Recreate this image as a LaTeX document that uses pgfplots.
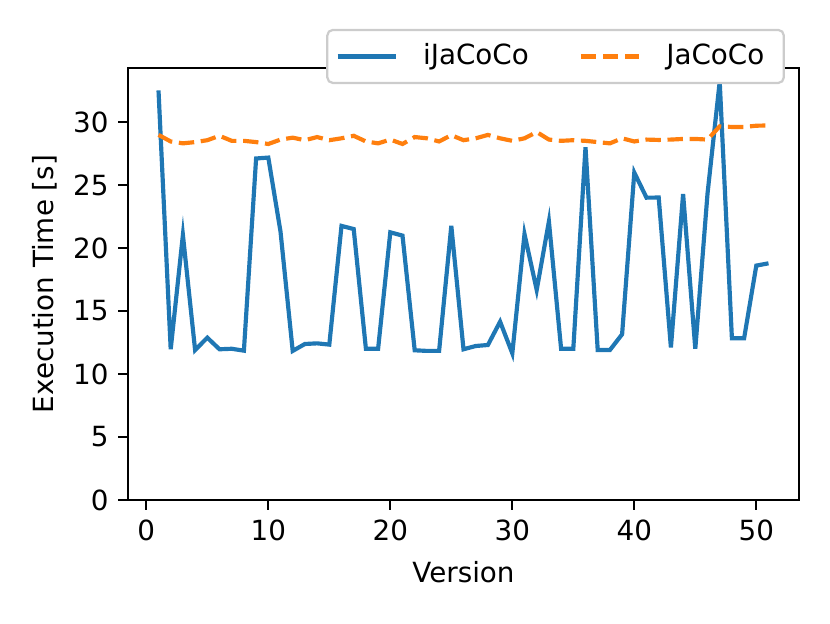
\documentclass[border=0pt]{standalone}
\usepackage{pgfplots}
\pgfplotsset{compat=1.18}
\usepackage{fontspec}
\setmainfont{DejaVu Sans}
\definecolor{tabblue}{HTML}{1F77B4}
\definecolor{taborange}{HTML}{FF7F0E}
\begin{document}
\fontsize{10}{12}\selectfont
\begin{tikzpicture}
\useasboundingbox (-46.08pt,-44.28pt) rectangle (252.72pt,180pt);
\begin{axis}[
  at={(0pt,0pt)}, anchor=south west,
  scale only axis, width=241.56pt, height=155.52pt,
  xmin=-1.5, xmax=53.5, ymin=0, ymax=34.28,
  xtick={0,10,20,30,40,50}, ytick={0,5,10,15,20,25,30},
  tick align=outside, tick pos=left,
  major tick length=3.5pt,
  every tick/.style={black, line width=0.8pt},
  axis line style={line width=0.8pt},
  /pgf/number format/assume math mode=true,
  tick label style={font=\fontsize{10}{12}\selectfont},
  label style={font=\fontsize{10}{12}\selectfont},
  xlabel={Version}, ylabel={Execution Time [s]},
  xlabel style={yshift=-0.5pt},
  ylabel style={yshift=-1pt},
  legend columns=2,
  legend image code/.code={\draw[#1] (0pt,0pt) -- (21pt,0pt);},
  legend style={at={(rel axis cs:0.979,1.0907)}, anchor=north east,
    draw=black!20, line width=0.8pt, rounded corners=2pt, fill=white,
    font=\fontsize{10}{12}\selectfont, inner xsep=3pt, inner ysep=3pt,
    /tikz/every even column/.append style={column sep=14pt},
    /tikz/every odd column/.append style={column sep=5pt},
    nodes={inner xsep=4pt}},
]
\addplot[tabblue, line width=1.5pt] coordinates {
(1,32.5) (2,11.96) (3,21.03) (4,11.9) (5,12.88) (6,11.96) (7,12.0) (8,11.85)
(9,27.1) (10,27.17) (11,21.3) (12,11.83) (13,12.38) (14,12.43) (15,12.33)
(16,21.75) (17,21.5) (18,12.0) (19,12.0) (20,21.24) (21,20.98) (22,11.88)
(23,11.83) (24,11.83) (25,21.75) (26,11.96) (27,12.22) (28,12.3) (29,14.15)
(30,11.64) (31,21.1) (32,16.67) (33,22.1) (34,12.0) (35,12.0) (36,27.99)
(37,11.9) (38,11.9) (39,13.15) (40,25.98) (41,23.99) (42,24.0) (43,12.1)
(44,24.28) (45,12.0) (46,24.3) (47,33.2) (48,12.83) (49,12.83) (50,18.6) (51,18.78)
};
\addlegendentry{iJaCoCo}
\addplot[taborange, line width=1.5pt, dash pattern=on 5.55pt off 2.4pt] coordinates {
(1,28.97) (2,28.45) (3,28.3) (4,28.4) (5,28.55) (6,28.9) (7,28.5) (8,28.5)
(9,28.4) (10,28.25) (11,28.6) (12,28.75) (13,28.55) (14,28.8) (15,28.55)
(16,28.7) (17,28.9) (18,28.45) (19,28.3) (20,28.6) (21,28.25) (22,28.8)
(23,28.7) (24,28.45) (25,28.95) (26,28.55) (27,28.7) (28,28.97) (29,28.7)
(30,28.5) (31,28.7) (32,29.2) (33,28.6) (34,28.5) (35,28.55) (36,28.5)
(37,28.4) (38,28.3) (39,28.7) (40,28.45) (41,28.6) (42,28.57) (43,28.6)
(44,28.65) (45,28.65) (46,28.6) (47,29.65) (48,29.6) (49,29.6) (50,29.7) (51,29.72)
};
\addlegendentry{JaCoCo}
\end{axis}
\end{tikzpicture}
\end{document}
